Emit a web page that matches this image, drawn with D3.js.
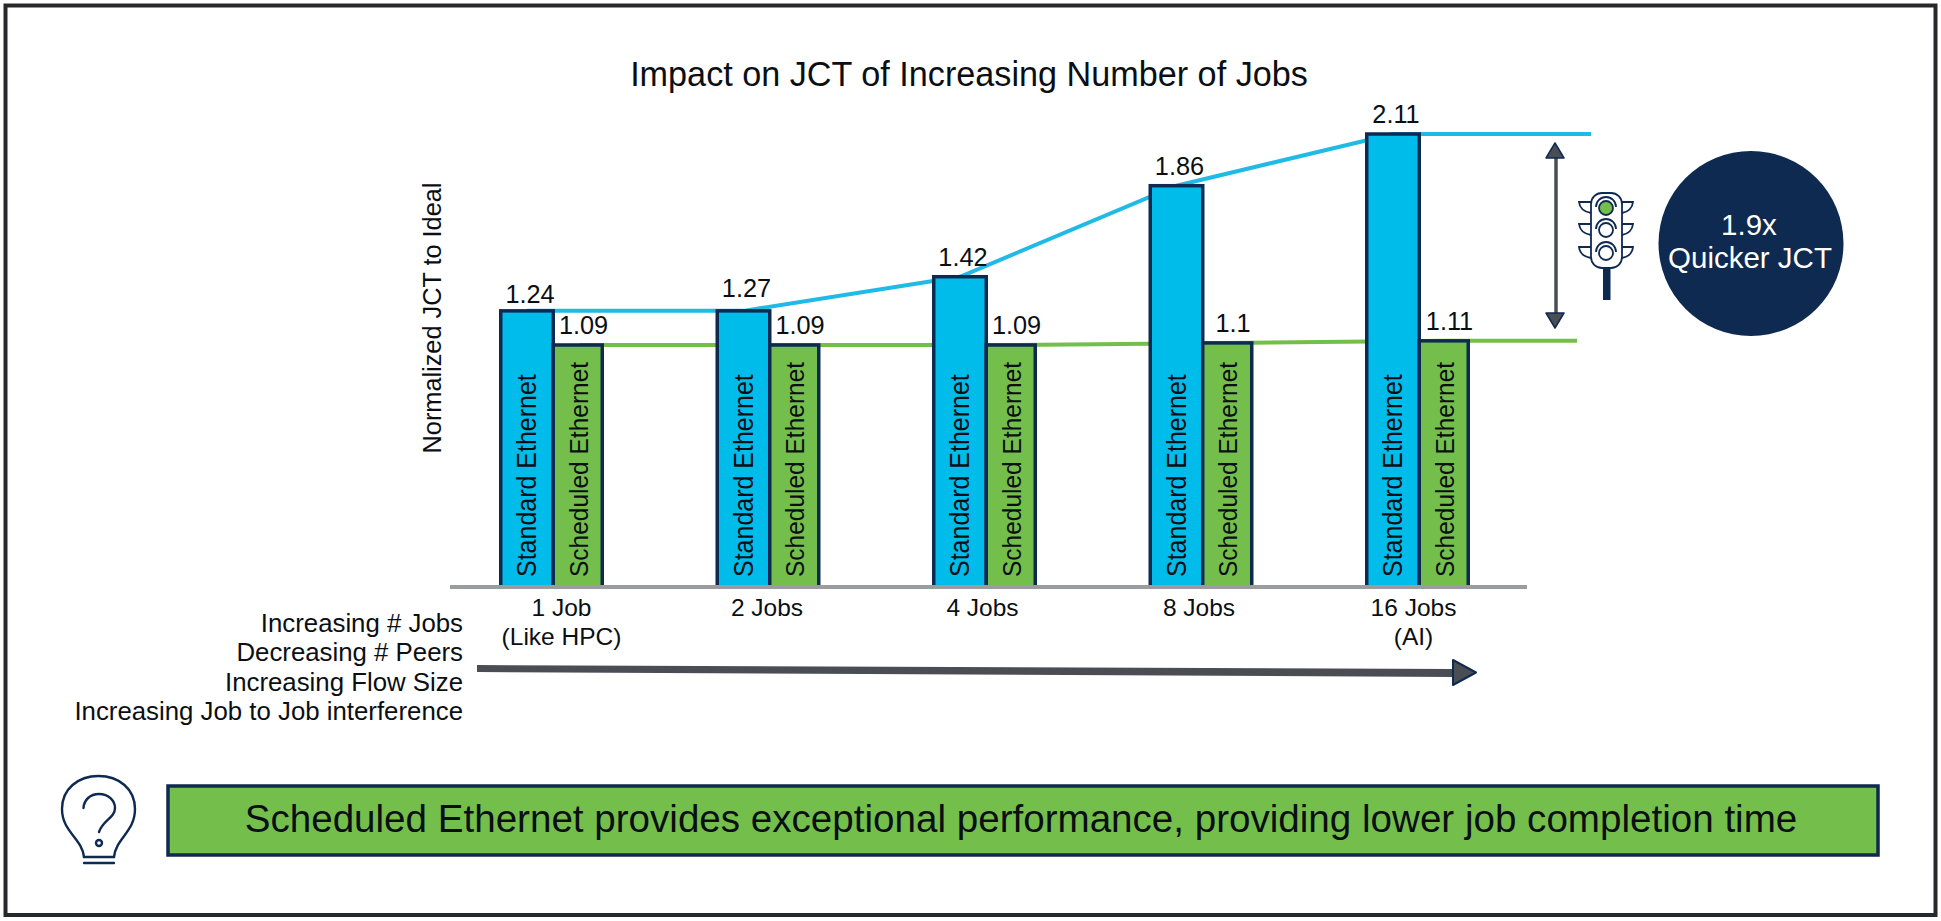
<!DOCTYPE html>
<html><head><meta charset="utf-8">
<script src="https://cdn.jsdelivr.net/npm/d3@7/dist/d3.min.js"></script>
<style>
html,body{margin:0;padding:0;background:#fff}
svg{display:block}
text{font-family:"Liberation Sans",Arial,sans-serif;fill:#0b0f14}
</style></head><body>
<svg id="c" width="1941" height="921"></svg>
<script>
const categories = ["1 Job","2 Jobs","4 Jobs","8 Jobs","16 Jobs"];
const categorySecondLine = ["(Like HPC)","","","","(AI)"];
// values printed above the bars
const standardEthernet = [1.24,1.27,1.42,1.86,2.11];
const scheduledEthernet = [1.09,1.09,1.09,1.1,1.11];
// bar heights as drawn in the picture: the first two blue bars are the same height there
const standardDrawnHeight = [1.255,1.255,1.42,1.86,2.11];
const seriesNames = ["Standard Ethernet","Scheduled Ethernet"];
const trendNotes = ["Increasing # Jobs","Decreasing # Peers","Increasing Flow Size","Increasing Job to Job interference"];
const titleText = "Impact on JCT of Increasing Number of Jobs";
const yLabel = "Normalized JCT to Ideal";
const calloutLines = ["1.9x","Quicker JCT"];
const bannerText = "Scheduled Ethernet provides exceptional performance, providing lower job completion time";

const navy="#0f2a50", blue="#00bceb", green="#74bf4b", grey="#9a9c9f", dark="#4a4e54";
const svg=d3.select("#c");
const T=(s,x,y,t,size,anchor="middle")=>s.append("text").attr("x",x).attr("y",y).attr("dy",".35em")
  .attr("text-anchor",anchor).attr("font-size",size).text(t);

// frame
svg.append("rect").attr("x",5.5).attr("y",5.5).attr("width",1930).attr("height",909.5)
  .attr("fill","#fff").attr("stroke","#26282b").attr("stroke-width",4);

// scales
const x=d3.scaleBand().domain(categories).range([499,1470]).paddingInner(0.515).paddingOuter(0);
const y=d3.scaleLinear().domain([-0.08,2.11]).range([587,134]);
const blueW=56, greenW=49, band=x.bandwidth();

T(svg,969,74,titleText,34.2);
T(svg,0,0,yLabel,25.3).attr("transform","translate(432,318) rotate(-90)");

// trend lines behind the bars
const line=d3.line().x(d=>d[0]).y(d=>y(d[1]));
const last=categories[categories.length-1];
const bluePts=categories.map((c,i)=>[x(c)+blueW/2,standardDrawnHeight[i]]);
bluePts.push([x(last)+226,standardDrawnHeight[4]]);
const greenPts=categories.map((c,i)=>[x(c)+band-greenW/2,scheduledEthernet[i]]);
greenPts.push([x(last)+212,scheduledEthernet[4]]);
svg.append("path").attr("d",line(bluePts)).attr("fill","none").attr("stroke","#1fbbe6").attr("stroke-width",4);
svg.append("path").attr("d",line(greenPts)).attr("fill","none").attr("stroke",green).attr("stroke-width",4);

// bars
const sw=3.5;
const barG=svg.append("g");
barG.selectAll("rect.std").data(categories).join("rect").attr("class","std")
  .attr("x",c=>x(c)+sw/2).attr("width",blueW-sw)
  .attr("y",(c,i)=>y(standardDrawnHeight[i])).attr("height",(c,i)=>y(-0.08)-y(standardDrawnHeight[i]))
  .attr("fill",blue).attr("stroke",navy).attr("stroke-width",sw);
barG.selectAll("rect.sch").data(categories).join("rect").attr("class","sch")
  .attr("x",c=>x(c)+blueW-sw/2).attr("width",greenW)
  .attr("y",(c,i)=>y(scheduledEthernet[i])).attr("height",(c,i)=>y(-0.08)-y(scheduledEthernet[i]))
  .attr("fill",green).attr("stroke",navy).attr("stroke-width",sw);

// rotated series names
categories.forEach(c=>{
  const bx=x(c);
  svg.append("text").attr("font-size",25).attr("dy",".35em").attr("text-anchor","start")
    .attr("transform",`translate(${bx+blueW/2},577) rotate(-90) scale(1,1.07)`).text(seriesNames[0]);
  svg.append("text").attr("font-size",24.5).attr("dy",".35em").attr("text-anchor","start")
    .attr("transform",`translate(${bx+blueW+greenW/2-1},577) rotate(-90) scale(1,1.08)`).text(seriesNames[1]);
});

// value labels
categories.forEach((c,i)=>{
  T(svg,x(c)+blueW/2+3,y(standardEthernet[i])-20,String(standardEthernet[i]),25.3);
  T(svg,x(c)+band-greenW/2+4,y(scheduledEthernet[i])-20,String(scheduledEthernet[i]),25.3);
});

// axis
svg.append("line").attr("x1",450).attr("x2",1527).attr("y1",587).attr("y2",587).attr("stroke",grey).attr("stroke-width",4);
const tickNudge=[10,-1,-2,-2,-4];
const ax=svg.append("g").attr("transform","translate(0,587)").call(d3.axisBottom(x).tickSize(0).tickPadding(0));
ax.select(".domain").remove();
ax.selectAll(".tick text").attr("font-size",24.5).attr("dy",0).attr("y",0)
  .each(function(d,i){
    const t=d3.select(this).text(null).attr("x",tickNudge[i]);
    t.append("tspan").attr("x",tickNudge[i]).attr("y",29).text(d);
    if(categorySecondLine[i]) t.append("tspan").attr("x",tickNudge[i]).attr("y",58).text(categorySecondLine[i]);
  });

// trend notes + arrow
const noteY=d3.scalePoint().domain(trendNotes).range([623,711]);
trendNotes.forEach(n=>T(svg,463,noteY(n),n,25.8,"end"));
svg.append("path").attr("d","M477 665L1453 669L1453 677L477 672Z").attr("fill",dark);
svg.append("path").attr("d","M1453 660L1476 672.5L1453 685Z").attr("fill",dark).attr("stroke",navy).attr("stroke-width",2).attr("stroke-linejoin","round");

// gap arrow
svg.append("line").attr("x1",1556).attr("x2",1556).attr("y1",150).attr("y2",320).attr("stroke",dark).attr("stroke-width",3.5);
svg.append("path").attr("d","M1555 143L1564 158L1546 158Z").attr("fill",dark).attr("stroke",navy).attr("stroke-width",1.5).attr("stroke-linejoin","round");
svg.append("path").attr("d","M1555 328L1564 313L1546 313Z").attr("fill",dark).attr("stroke",navy).attr("stroke-width",1.5).attr("stroke-linejoin","round");

// traffic light
const tl=svg.append("g").attr("fill","none").attr("stroke",navy).attr("stroke-width",1.8);
[208,230,253].forEach(cy=>{
  const vy=cy-6;
  tl.append("path").attr("d",`M1591 ${vy}L1579 ${vy}Q1580 ${vy+9} 1591 ${vy+11}`);
  tl.append("path").attr("d",`M1622 ${vy}L1633 ${vy}Q1632 ${vy+9} 1622 ${vy+11}`);
});
tl.append("rect").attr("x",1591).attr("y",193).attr("width",31).attr("height",75).attr("rx",11).attr("fill","#fff");
[208,230,253].forEach((cy,i)=>{
  tl.append("circle").attr("cx",1606).attr("cy",cy).attr("r",7).attr("fill",i==0?green:"#fff");
  tl.append("path").attr("d",`M1596 ${cy-1}A10 10 0 0 1 1616 ${cy-1}`);
});
svg.append("rect").attr("x",1603).attr("y",268).attr("width",7.5).attr("height",32).attr("fill",navy);

// callout
svg.append("circle").attr("cx",1751).attr("cy",243.5).attr("r",92.5).attr("fill",navy);
T(svg,1749,225,calloutLines[0],29.5).style("fill","#fff");
T(svg,1750,258,calloutLines[1],29.5).style("fill","#fff");

// banner
svg.append("rect").attr("x",168).attr("y",786).attr("width",1710).attr("height",69).attr("fill",green).attr("stroke",navy).attr("stroke-width",3.5);
T(svg,1021,818,bannerText,38.6);

// bulb
const b=svg.append("g").attr("fill","none").attr("stroke",navy).attr("stroke-width",2.4).attr("stroke-linecap","round");
b.append("path").attr("d","M84 857C82 838 62 832 62 809C62 789 78 776 98.5 776C119 776 135 789 135 809C135 832 116 838 114 857Z");
b.append("path").attr("d","M84 863L114 863");
b.append("path").attr("d","M83.5 808C84 800 90 794 99 794C109 794 115 801 115 808C115 818 103 820 99 832");
b.append("circle").attr("cx",99).attr("cy",843).attr("r",3);
</script>
</body></html>
